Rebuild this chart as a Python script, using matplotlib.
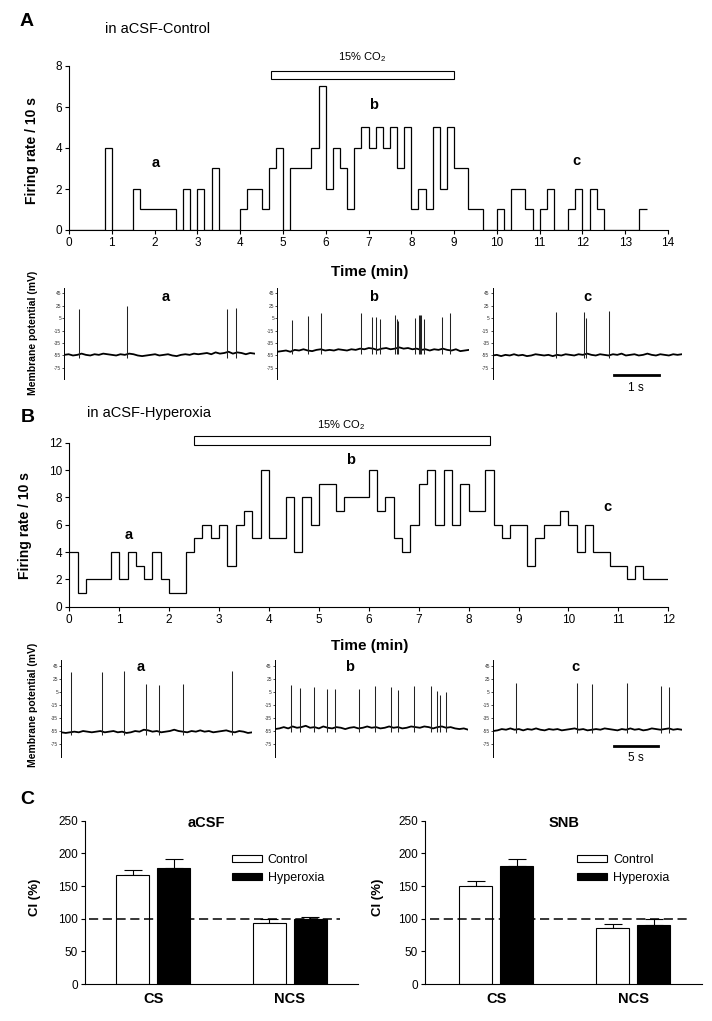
import numpy as np
import matplotlib
matplotlib.use('Agg')
import matplotlib.pyplot as plt
from matplotlib.patches import Rectangle, Patch

plt.rcParams['font.family'] = ['Liberation Sans', 'DejaVu Sans']
plt.rcParams['mathtext.fontset'] = 'custom'
plt.rcParams['mathtext.rm'] = 'Liberation Sans'
plt.rcParams['axes.unicode_minus'] = False

W, H = 712, 1021

# --- firing rate, spikes per 10 s bin ---
rate_A = [0, 0, 0, 0, 0, 4, 0, 0, 0, 2, 1, 1, 1, 1, 1, 0, 2, 0, 2, 0, 3, 0, 0, 0,
          1, 2, 2, 1, 3, 4, 0, 3, 3, 3, 4, 7, 2, 4, 3, 1, 4, 5, 4, 5, 4, 5, 3, 5,
          1, 2, 1, 5, 2, 5, 3, 3, 1, 1, 0, 0, 1, 0, 2, 2, 1, 0, 1, 2, 0, 0, 1, 2,
          0, 2, 1, 0, 0, 0, 0, 0, 1]
rate_B = [4, 1, 2, 2, 2, 4, 2, 4, 3, 2, 4, 2, 1, 1, 4, 5, 6, 5, 6, 3, 6, 7, 5, 10,
          5, 5, 8, 4, 8, 6, 9, 9, 7, 8, 8, 8, 10, 7, 8, 5, 4, 6, 9, 10, 6, 10, 6, 9,
          7, 7, 10, 6, 5, 6, 6, 3, 5, 6, 6, 7, 6, 4, 6, 4, 4, 3, 3, 2, 3, 2, 2, 2]
bin_min = 1 / 6  # 10 s

# --- membrane potential traces (mV) ---
base_Aa = [-54, -53, -55, -54, -52, -54, -55, -53, -54, -52, -53, -54, -55, -53, -54,
           -52, -53, -55, -56, -55, -54, -53, -55, -54, -53, -55, -56, -54, -53, -54,
           -52, -53, -52, -51, -53, -50, -52, -51, -49, -52, -50, -51, -53, -51, -52]
base_Ab = [-49, -48, -47, -49, -46, -47, -45, -47, -48, -46, -45, -47, -46, -47, -45,
           -46, -47, -45, -46, -44, -45, -43, -44, -46, -44, -43, -45, -44, -42, -44,
           -43, -45, -44, -46, -45, -47, -45, -46, -44, -46, -47, -45, -48, -47, -46]
base_Ac = [-55, -54, -56, -54, -55, -53, -55, -54, -56, -55, -53, -54, -55, -54, -56,
           -54, -55, -53, -54, -55, -53, -54, -52, -54, -55, -53, -54, -55, -53, -54,
           -52, -55, -54, -53, -55, -54, -52, -54, -55, -53, -54, -55, -53, -54, -53]
base_Ba = [-57, -58, -57, -56, -57, -55, -56, -57, -56, -55, -57, -56, -55, -57, -56,
           -58, -57, -55, -56, -53, -54, -56, -55, -57, -56, -55, -53, -55, -56, -57,
           -55, -56, -54, -56, -55, -57, -56, -55, -54, -56, -57, -55, -56, -58, -57]
base_Bb = [-52, -51, -49, -51, -48, -50, -49, -47, -50, -49, -51, -48, -50, -51, -49,
           -50, -52, -50, -49, -51, -50, -48, -50, -49, -51, -50, -48, -50, -49, -51,
           -50, -48, -49, -50, -48, -49, -51, -49, -48, -50, -49, -51, -52, -51, -53]
base_Bc = [-55, -54, -52, -53, -51, -53, -52, -54, -52, -53, -51, -53, -54, -52, -53,
           -52, -54, -53, -52, -51, -53, -52, -54, -53, -52, -53, -51, -52, -53, -54,
           -52, -53, -51, -53, -52, -54, -53, -51, -52, -53, -52, -51, -53, -52, -53]

spk_t_Aa = [0.33, 1.40, 3.64, 3.85]
spk_v_Aa = [19, 24.5, 19, 22]
spk_t_Ab = [0.33, 0.69, 0.99, 1.87, 2.13, 2.22, 2.30, 2.65, 2.68, 2.71, 3.08, 3.17,
            3.21, 3.23, 3.30, 3.69, 3.88]
spk_v_Ab = [2.4, 9, 13.6, 13.7, 6.6, 6.6, 2.9, 9.3, 4.2, 0.3, 5.6, 9.3, 9.3, 9.3,
            4.2, 6.6, 13.7]
spk_t_Ac = [1.43, 2.06, 2.09, 2.62]
spk_v_Ac = [14.5, 14.5, 5, 17]
spk_t_Ba = [1.12, 4.59, 7.04, 9.44, 10.97, 13.67, 19.13]
spk_v_Ba = [36, 35, 37, 18, 16, 18, 37]
spk_t_Bb = [1.79, 2.81, 4.34, 5.87, 6.73, 9.44, 11.22, 13.01, 13.78, 15.56, 17.45,
            18.21, 18.47, 19.13]
spk_v_Bb = [16, 10.7, 12, 9.6, 9.6, 9.6, 14, 13, 8, 14.7, 14.7, 6.5, 0.4, 4.5]
spk_t_Bc = [2.55, 9.44, 11.07, 15.05, 18.78, 19.74]
spk_v_Bc = [19.4, 19.4, 16.8, 18.3, 14.2, 12.2]

mv_ticks = [45, 25, 5, -15, -35, -55, -75]

# --- panel C ---
groups = ['CS', 'NCS']
acsf_ctrl = [167, 93]
acsf_ctrl_err = [8, 6]
acsf_hyp = [177, 99]
acsf_hyp_err = [14, 4]
snb_ctrl = [150, 85]
snb_ctrl_err = [7, 6.5]
snb_hyp = [181, 90]
snb_hyp_err = [11, 9]


def px_box(x0, y0, x1, y1):
    return [x0 / W, 1 - y1 / H, (x1 - x0) / W, (y1 - y0) / H]


def ftext(x, y, s, **kw):
    kw.setdefault('ha', 'center')
    kw.setdefault('va', 'center')
    fig.text(x / W, 1 - y / H, s, **kw)


fig = plt.figure(figsize=(7.12, 10.21), dpi=100)


def firing_axes(box, rate, xmax, ymax, ystep):
    ax = fig.add_axes(box)
    edges = np.arange(len(rate) + 1) * bin_min
    ax.stairs(rate, edges, baseline=None, color='k', lw=0.9)
    ax.set_xlim(0, xmax)
    ax.set_ylim(0, ymax)
    ax.set_xticks(range(0, xmax + 1))
    ax.set_yticks(range(0, ymax + 1, ystep))
    for s in ['top', 'right']:
        ax.spines[s].set_visible(False)
    for s in ['left', 'bottom']:
        ax.spines[s].set_linewidth(0.8)
    ax.tick_params(direction='out', length=3, width=0.8, labelsize=8.5, pad=2)
    return ax


axA = firing_axes(px_box(69, 66, 668, 230), rate_A, 14, 8, 2)
axA.add_patch(Rectangle((4.72, 7.35), 4.28, 0.42, fc='white', ec='k', lw=0.8, clip_on=False))
axA.text(6.86, 8.45, '15% CO$_2$', ha='center', va='center', fontsize=8)
for lab, x, y in [('a', 2.02, 3.25), ('b', 7.13, 6.1), ('c', 11.86, 3.37)]:
    axA.text(x, y, lab, ha='center', va='center', fontsize=10.5, fontweight='bold')

axB = firing_axes(px_box(69.3, 442.7, 668.3, 606.7), rate_B, 12, 12, 2)
axB.add_patch(Rectangle((2.49, 11.8), 5.93, 0.69, fc='white', ec='k', lw=0.8, clip_on=False))
axB.text(5.45, 13.3, '15% CO$_2$', ha='center', va='center', fontsize=8)
for lab, x, y in [('a', 1.18, 5.24), ('b', 5.63, 10.7), ('c', 10.79, 7.3)]:
    axB.text(x, y, lab, ha='center', va='center', fontsize=10.5, fontweight='bold')

ftext(32, 150, 'Firing rate / 10 s', rotation=90, fontsize=10, fontweight='bold')
ftext(25, 525, 'Firing rate / 10 s', rotation=90, fontsize=10, fontweight='bold')
ftext(370, 272, 'Time (min)', fontsize=11, fontweight='bold')
ftext(370, 646, 'Time (min)', fontsize=11, fontweight='bold')


def trace_axes(box, base, dur, spk_t, spk_v, ylim):
    ax = fig.add_axes(box)
    t = np.linspace(0, dur, len(base))
    ax.plot(t, base, color='k', lw=1.3)
    foot = min(base) - 3
    ax.vlines(spk_t, foot, spk_v, color='#222222', lw=0.75)
    ax.set_xlim(0, dur)
    ax.set_ylim(*ylim)
    ax.set_xticks([])
    ax.set_yticks(mv_ticks)
    ax.set_yticklabels([str(v) for v in mv_ticks])
    ax.tick_params(axis='y', direction='out', length=1.5, width=0.5, labelsize=3.5,
                   pad=0.8, labelcolor='#333333')
    for s in ['top', 'right', 'bottom']:
        ax.spines[s].set_visible(False)
    ax.spines['left'].set_linewidth(0.7)
    ax.patch.set_alpha(0)
    return ax


ylimA = (-92.8, 53)
trace_axes(px_box(64.3, 288.3, 254.5, 379), base_Aa, 4.26, spk_t_Aa, spk_v_Aa, ylimA)
trace_axes(px_box(277.3, 288.3, 469, 379), base_Ab, 4.30, spk_t_Ab, spk_v_Ab, ylimA)
axAc = trace_axes(px_box(492.5, 288.3, 681.8, 379), base_Ac, 4.24, spk_t_Ac, spk_v_Ac, ylimA)
axAc.plot([2.72, 3.72], [-86.4, -86.4], color='k', lw=2.0, clip_on=False)
axAc.text(3.22, -107, '1 s', ha='center', va='center', fontsize=8.5)

ylimB = (-94.5, 54.2)
trace_axes(px_box(61.4, 660, 252.3, 756.7), base_Ba, 21.4, spk_t_Ba, spk_v_Ba, ylimB)
trace_axes(px_box(275, 660, 468.2, 756.7), base_Bb, 21.66, spk_t_Bb, spk_v_Bb, ylimB)
axBc = trace_axes(px_box(493.2, 660, 681.8, 756.7), base_Bc, 21.14, spk_t_Bc, spk_v_Bc, ylimB)
axBc.plot([13.5, 18.5], [-78.6, -78.6], color='k', lw=2.0, clip_on=False)
axBc.text(16, -97, '5 s', ha='center', va='center', fontsize=8.5)

for lab, x, y in [('a', 166, 297), ('b', 373.6, 297), ('c', 587.7, 297),
                  ('a', 141, 667), ('b', 350, 667), ('c', 575, 667)]:
    ftext(x, y, lab, fontsize=10.5, fontweight='bold')
ftext(33, 333, 'Membrane potential (mV)', rotation=90, fontsize=7.5, fontweight='bold')
ftext(33, 705, 'Membrane potential (mV)', rotation=90, fontsize=7.5, fontweight='bold')


def bar_axes(box, ctrl, ctrl_err, hyp, hyp_err, xlim, dash, legx):
    ax = fig.add_axes(box)
    x = np.arange(len(groups))
    off, bw = 0.15, 0.244
    ax.bar(x - off, ctrl, bw, color='white', edgecolor='k', lw=0.8, zorder=2)
    ax.bar(x + off, hyp, bw, color='k', edgecolor='k', lw=0.8, zorder=2)
    ax.errorbar(x - off, ctrl, yerr=[np.zeros(len(x)), ctrl_err], fmt='none',
                ecolor='k', elinewidth=0.8, capsize=6.8, capthick=0.8, zorder=1)
    ax.errorbar(x + off, hyp, yerr=[np.zeros(len(x)), hyp_err], fmt='none',
                ecolor='k', elinewidth=0.8, capsize=6.8, capthick=0.8, zorder=1)
    ax.hlines(100, dash[0], dash[1], colors='k', linestyles=(0, (6, 3)), lw=1.1, zorder=3)
    ax.set_xlim(*xlim)
    ax.set_ylim(0, 250)
    ax.set_yticks(range(0, 251, 50))
    ax.set_xticks(x)
    ax.set_xticklabels(groups, fontsize=10.5, fontweight='bold')
    ax.tick_params(axis='x', length=0, pad=6)
    ax.tick_params(axis='y', direction='out', length=3, width=0.8, labelsize=8.5, pad=2)
    for s in ['top', 'right']:
        ax.spines[s].set_visible(False)
    for s in ['left', 'bottom']:
        ax.spines[s].set_linewidth(0.8)
    handles = [Patch(fc='white', ec='k', lw=0.8), Patch(fc='k', ec='k', lw=0.8)]
    ax.legend(handles, ['Control', 'Hyperoxia'], loc='upper left', bbox_to_anchor=(legx, 0.795),
              frameon=False, fontsize=9, handlelength=2.4, handleheight=0.45,
              handletextpad=0.5, labelspacing=0.45, borderpad=0, borderaxespad=0)
    return ax


bar_axes(px_box(85, 820.7, 358, 984), acsf_ctrl, acsf_ctrl_err, acsf_hyp, acsf_hyp_err,
         (-0.5, 1.5), (-0.468, 1.37), 0.537)
bar_axes(px_box(425, 820.7, 701.7, 984), snb_ctrl, snb_ctrl_err, snb_hyp, snb_hyp_err,
         (-0.52, 1.5), (-0.486, 1.415), 0.548)
ftext(206.7, 823, 'aCSF', fontsize=10.5, fontweight='bold')
ftext(564, 823, 'SNB', fontsize=10.5, fontweight='bold')
ftext(35, 897, 'CI (%)', rotation=90, fontsize=9.5, fontweight='bold')
ftext(378, 897, 'CI (%)', rotation=90, fontsize=9.5, fontweight='bold')

ftext(27, 22, 'A', fontsize=14, fontweight='bold')
ftext(28, 417, 'B', fontsize=14, fontweight='bold')
ftext(27, 800, 'C', fontsize=14, fontweight='bold')
ftext(158, 29, 'in aCSF-Control', fontsize=10.5)
ftext(149, 413, 'in aCSF-Hyperoxia', fontsize=10.5)

fig.savefig('out.png', dpi=100)
